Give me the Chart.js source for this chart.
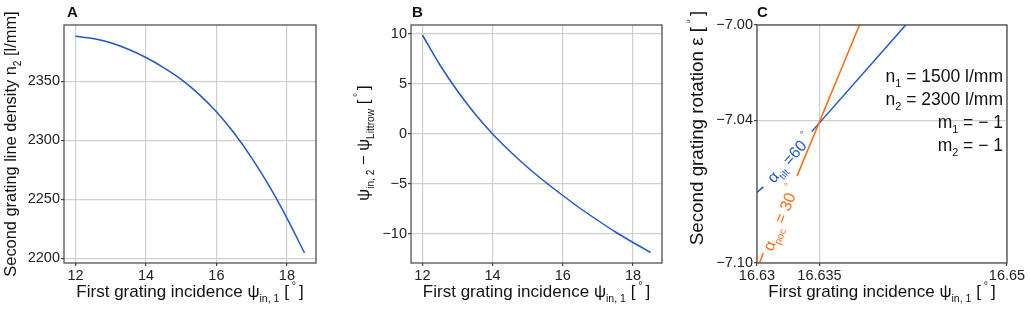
<!DOCTYPE html>
<html>
<head>
<meta charset="utf-8">
<script src="https://cdn.jsdelivr.net/npm/chart.js@4"></script>
<style>
  body { margin: 0; background: #fff; width: 1030px; height: 314px; overflow: hidden; position: relative; }
  canvas { position: absolute; top: 0; }
</style>
</head>
<body>
<canvas id="panelA" width="343" height="314" style="left:0"></canvas>
<canvas id="panelB" width="344" height="314" style="left:343px"></canvas>
<canvas id="panelC" width="343" height="314" style="left:687px"></canvas>
<script>
// values
const incidence   = [12, 12.5, 13, 13.5, 14, 14.5, 15, 15.5, 16, 16.5, 17, 17.5, 18, 18.5];
const lineDensity = [2388, 2386, 2382.5, 2377, 2370, 2361.5, 2351.5, 2339, 2324, 2306, 2285, 2261, 2234, 2204.5];
const psiOffset   = [9.9, 6.9, 4.3, 2.0, 0.0, -1.75, -3.35, -4.8, -6.15, -7.45, -8.65, -9.8, -10.85, -11.85];

// panel C contour lines (null = gap for the inline label)
const pocX  = [16.6302, 16.6305, 16.6318, 16.6332, 16.6382];
const pocY  = [-7.100, -7.0958, null, -7.0635, -7.000];
const tiltX = [16.6300, 16.6305, 16.6324, 16.63438, 16.6419];
const tiltY = [-7.0704, -7.0680, null, -7.0448, -7.000];

const abTicksX = [12, 14, 16, 18];
const aTicksY = [2200, 2250, 2300, 2350];
const bTicksY = [-10, -5, 0, 5, 10];
const bTickLabelsY = ['\u221210', '\u22125', '0', '5', '10'];
const cTicksX = [16.63, 16.635, 16.65];
const cTickLabelsX = ['16.63', '16.635', '16.65'];
const cTicksY = [-7.10, -7.04, -7.00];
const cTickLabelsY = ['\u22127.10', '\u22127.04', '\u22127.00'];

const BLUE = '#1f58c6';
const ORANGE = '#ff6a0a';
const FONT = '"Liberation Sans", Arial, sans-serif';
const SUB = 0.62;

Chart.defaults.font.family = FONT;
Chart.defaults.font.size = 14.5;
Chart.defaults.color = '#222';

// text with sub/superscript runs: parts = [[text, mode]], mode -1 sub, 1 sup
function richWidth(ctx, parts, size) {
  let w = 0;
  parts.forEach(p => {
    ctx.font = (p[1] ? size * SUB : size) + 'px ' + FONT;
    w += ctx.measureText(p[0]).width;
  });
  return w;
}
function drawRich(ctx, parts, x, y, size, align) {
  const w = richWidth(ctx, parts, size);
  let cx = align === 'center' ? x - w / 2 : align === 'right' ? x - w : x;
  ctx.textBaseline = 'alphabetic';
  ctx.textAlign = 'left';
  parts.forEach(p => {
    ctx.font = (p[1] ? size * SUB : size) + 'px ' + FONT;
    const dy = p[1] === -1 ? size * 0.28 : p[1] === 1 ? -size * 0.5 : 0;
    ctx.fillText(p[0], cx, y + dy);
    cx += ctx.measureText(p[0]).width;
  });
}

const xTitle = [['First grating incidence \u03c8', 0], ['in, 1', -1], [' [', 0], [' \u00b0 ', 1], [']', 0]];

function decor(o) {
  return {
    id: 'decor',
    afterDraw(chart) {
      const ctx = chart.ctx, a = chart.chartArea;
      ctx.save();
      ctx.strokeStyle = '#444';
      ctx.lineWidth = 1.2;
      ctx.strokeRect(a.left, a.top, a.right - a.left, a.bottom - a.top);
      ctx.fillStyle = '#111';
      ctx.font = 'bold 15px ' + FONT;
      ctx.textAlign = 'left';
      ctx.textBaseline = 'alphabetic';
      ctx.fillText(o.letter, o.letterX, 17);
      drawRich(ctx, xTitle, (a.left + a.right) / 2, 297, 17, 'center');
      ctx.save();
      ctx.translate(o.yTitleX, o.yTitleY);
      ctx.rotate(-Math.PI / 2);
      drawRich(ctx, o.yTitle, 0, 0, o.yTitleSize, 'center');
      ctx.restore();
      if (o.extra) o.extra(chart, ctx);
      ctx.restore();
    }
  };
}

function axis(min, max, vals, labels, fit) {
  return {
    type: 'linear', min: min, max: max,
    afterBuildTicks: s => { s.ticks = vals.map(v => ({ value: v })); },
    afterFit: fit,
    border: { display: false },
    grid: { color: '#cfcfcf', lineWidth: 1.2, tickLength: 3, tickColor: '#444' },
    ticks: { autoSkip: false, maxRotation: 0, padding: 1, callback: (v, i) => labels[i] }
  };
}

function pts(xs, ys) {
  return xs.map((x, i) => ({ x: x, y: ys[i] }));
}

function makeChart(id, datasets, xScale, yScale, padRight, plugin) {
  return new Chart(document.getElementById(id), {
    type: 'line',
    data: { datasets: datasets },
    options: {
      responsive: false,
      animation: false,
      layout: { padding: { left: 0, right: padRight, top: 25, bottom: 0 } },
      elements: { point: { radius: 0 } },
      plugins: { legend: { display: false }, tooltip: { enabled: false } },
      scales: { x: xScale, y: yScale }
    },
    plugins: [plugin]
  });
}

// A
makeChart('panelA',
  [{ data: pts(incidence, lineDensity), borderColor: BLUE, borderWidth: 1.5, cubicInterpolationMode: 'monotone' }],
  axis(11.675, 18.825, abTicksX, abTicksX.map(String), s => { s.height = 51; }),
  axis(2196, 2397.5, aTicksY, aTicksY.map(String), s => { s.width = 64; }),
  27,
  decor({ letter: 'A', letterX: 67, yTitleX: 16, yTitleY: 144, yTitleSize: 16.4,
    yTitle: [['Second grating line density n', 0], ['2', -1], [' [l/mm]', 0]] })
);

// B
makeChart('panelB',
  [{ data: pts(incidence, psiOffset), borderColor: BLUE, borderWidth: 1.5, cubicInterpolationMode: 'monotone' }],
  axis(11.675, 18.825, abTicksX, abTicksX.map(String), s => { s.height = 51; }),
  axis(-12.9, 10.9, bTicksY, bTickLabelsY, s => { s.width = 68; }),
  25,
  decor({ letter: 'B', letterX: 69, yTitleX: 26, yTitleY: 143, yTitleSize: 16.5,
    yTitle: [['\u03c8', 0], ['in, 2', -1], [' \u2212 \u03c8', 0], ['Littrow', -1], [' [', 0], [' \u00b0 ', 1], [']', 0]] })
);

// C
function contourLabel(chart, ctx, xs, ys, i0, i1, lx, ly, parts, color) {
  const sx = chart.scales.x, sy = chart.scales.y;
  const ang = Math.atan2(sy.getPixelForValue(ys[i1]) - sy.getPixelForValue(ys[i0]),
                         sx.getPixelForValue(xs[i1]) - sx.getPixelForValue(xs[i0]));
  ctx.save();
  ctx.translate(sx.getPixelForValue(lx), sy.getPixelForValue(ly));
  ctx.rotate(ang);
  ctx.fillStyle = color;
  drawRich(ctx, parts, 0, 5.5, 16, 'center');
  ctx.restore();
}

makeChart('panelC',
  [
    { data: pts(pocX, pocY), borderColor: ORANGE, borderWidth: 1.5, spanGaps: false },
    { data: pts(tiltX, tiltY), borderColor: BLUE, borderWidth: 1.5, spanGaps: false }
  ],
  axis(16.63, 16.65, cTicksX, cTickLabelsX, s => { s.height = 51; }),
  axis(-7.10, -7.00, cTicksY, cTickLabelsY, s => { s.width = 70; }),
  23,
  decor({ letter: 'C', letterX: 70, yTitleX: 16, yTitleY: 128, yTitleSize: 18.8,
    yTitle: [['Second grating rotation \u03b5 [', 0], [' \u00b0 ', 1], [']', 0]],
    extra: (chart, ctx) => {
      ctx.fillStyle = '#111';
      const right = 316;
      drawRich(ctx, [['n', 0], ['1', -1], [' = 1500 l/mm', 0]], right, 82, 17.5, 'right');
      drawRich(ctx, [['n', 0], ['2', -1], [' = 2300 l/mm', 0]], right, 105, 17.5, 'right');
      drawRich(ctx, [['m', 0], ['1', -1], [' = \u2212 1', 0]], right, 128, 17.5, 'right');
      drawRich(ctx, [['m', 0], ['2', -1], [' = \u2212 1', 0]], right, 151, 17.5, 'right');
      contourLabel(chart, ctx, tiltX, tiltY, 3, 4, 16.6326, -7.0560,
        [['\u03b1', 0], ['tilt', -1], [' =60 ', 0], ['\u00b0', 1]], BLUE);
      contourLabel(chart, ctx, pocX, pocY, 3, 4, 16.6319, -7.0810,
        [['\u03b1', 0], ['poc', -1], [' = 30 ', 0], ['\u00b0', 1]], ORANGE);
    } })
);
</script>
</body>
</html>
